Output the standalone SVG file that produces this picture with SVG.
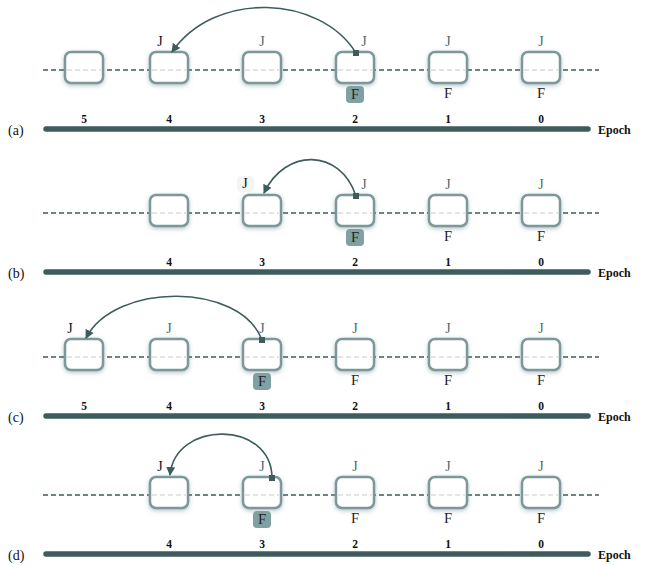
<svg xmlns="http://www.w3.org/2000/svg" width="646" height="565" viewBox="0 0 646 565">
<style>
.bg{fill:#ffffff}
.dash{stroke:#3f5c5c;stroke-width:1.3;stroke-dasharray:5,3;fill:none}
.bar{stroke:#3f5c5c;stroke-width:5.5;stroke-linecap:round}
.t{font-family:"Liberation Serif","Times New Roman",serif}
.jk{font-size:14px;fill:#111;text-anchor:middle}
.jg{font-size:14px;fill:#4d6a6a;text-anchor:middle}
.f{font-size:14.5px;fill:#222;text-anchor:middle}
.fh{fill:#7fa1a1}
.num{font-size:11.5px;font-weight:bold;fill:#111;text-anchor:middle}
.ep{font-size:12px;font-weight:bold;fill:#111}
.pl{font-size:14px;fill:#111}
.arc{fill:none;stroke:#3f5c5c;stroke-width:1.6;marker-start:url(#sq);marker-end:url(#ah)}
.lbl{fill:#f3f4f4}
</style>
<defs>
<filter id="glow" x="-30%" y="-30%" width="160%" height="170%">
<feDropShadow dx="0" dy="1.5" stdDeviation="2.2" flood-color="#5c7d8c" flood-opacity="0.45"/>
</filter>
<marker id="ah" markerWidth="10" markerHeight="10" refX="8" refY="5" orient="auto" markerUnits="userSpaceOnUse">
<path d="M0,0.5 L9,5 L0,9.5 z" fill="#3f5c5c"/>
</marker>
<marker id="sq" markerWidth="6" markerHeight="6" refX="3" refY="3" orient="0" markerUnits="userSpaceOnUse">
<rect x="0" y="0" width="6" height="6" fill="#3f5c5c"/>
</marker>
<g id="node">
<rect x="-19" y="0" width="38" height="31" rx="6" fill="#ffffff" stroke="#7d9898" stroke-width="2.5" filter="url(#glow)"/>
<line x1="-17" y1="18" x2="17" y2="18" stroke="#dcdcdc" stroke-width="1.3" stroke-dasharray="5,3"/>
</g>
</defs>
<rect class="bg" width="646" height="565"/>

<!-- Panel (a) -->
<g id="panel-a">
<line class="dash" x1="43" y1="70" x2="599" y2="70"/>
<g id="a-n5"><use href="#node" x="84" y="52"/><text class="t num" x="84" y="123">5</text></g>
<g id="a-n4"><use href="#node" x="169" y="52"/><text class="t jk" x="160" y="46">J</text><text class="t num" x="169" y="123">4</text></g>
<g id="a-n3"><use href="#node" x="262" y="52"/><text class="t jg" x="262" y="46">J</text><text class="t num" x="262" y="123">3</text></g>
<g id="a-n2"><use href="#node" x="355" y="52"/><text class="t jg" x="364" y="46">J</text><rect class="fh" x="346" y="86" width="18" height="17" rx="4"/><text class="t f" x="355" y="99">F</text><text class="t num" x="355" y="123">2</text></g>
<g id="a-n1"><use href="#node" x="448" y="52"/><text class="t jg" x="448" y="46">J</text><text class="t f" x="448" y="98">F</text><text class="t num" x="448" y="123">1</text></g>
<g id="a-n0"><use href="#node" x="541" y="52"/><text class="t jg" x="541" y="46">J</text><text class="t f" x="541" y="98">F</text><text class="t num" x="541" y="123">0</text></g>
<line class="bar" x1="46" y1="129" x2="588" y2="129"/>
<text class="t pl" x="8" y="135">(a)</text>
<text class="t ep" x="598" y="134">Epoch</text>
<g id="a-conn"><path class="arc" d="M356,53 C320,-5 215,-10 172,52"/></g>
</g>

<!-- Panel (b) -->
<g id="panel-b" transform="translate(0,143)">
<line class="dash" x1="43" y1="70" x2="599" y2="70"/>
<g id="b-n4"><use href="#node" x="169" y="52"/><text class="t num" x="169" y="123">4</text></g>
<g id="b-n3"><use href="#node" x="262" y="52"/><rect class="lbl" x="237" y="33" width="17" height="16" rx="4"/><text class="t jk" x="245" y="45">J</text><text class="t num" x="262" y="123">3</text></g>
<g id="b-n2"><use href="#node" x="355" y="52"/><text class="t jg" x="364" y="46">J</text><rect class="fh" x="346" y="86" width="18" height="17" rx="4"/><text class="t f" x="355" y="99">F</text><text class="t num" x="355" y="123">2</text></g>
<g id="b-n1"><use href="#node" x="448" y="52"/><text class="t jg" x="448" y="46">J</text><text class="t f" x="448" y="98">F</text><text class="t num" x="448" y="123">1</text></g>
<g id="b-n0"><use href="#node" x="541" y="52"/><text class="t jg" x="541" y="46">J</text><text class="t f" x="541" y="98">F</text><text class="t num" x="541" y="123">0</text></g>
<line class="bar" x1="46" y1="129" x2="588" y2="129"/>
<text class="t pl" x="8" y="135">(b)</text>
<text class="t ep" x="598" y="134">Epoch</text>
<g id="b-conn"><path class="arc" d="M356,53 C340,5 285,5 264,50"/></g>
</g>

<!-- Panel (c) -->
<g id="panel-c" transform="translate(0,287)">
<line class="dash" x1="43" y1="70" x2="599" y2="70"/>
<g id="c-n5"><use href="#node" x="84" y="52"/><text class="t jk" x="70" y="46">J</text><text class="t num" x="84" y="123">5</text></g>
<g id="c-n4"><use href="#node" x="169" y="52"/><text class="t jg" x="169" y="46">J</text><text class="t num" x="169" y="123">4</text></g>
<g id="c-n3"><use href="#node" x="262" y="52"/><text class="t jg" x="262" y="46">J</text><rect class="fh" x="253" y="86" width="18" height="17" rx="4"/><text class="t f" x="262" y="99">F</text><text class="t num" x="262" y="123">3</text></g>
<g id="c-n2"><use href="#node" x="355" y="52"/><text class="t jg" x="355" y="46">J</text><text class="t f" x="355" y="98">F</text><text class="t num" x="355" y="123">2</text></g>
<g id="c-n1"><use href="#node" x="448" y="52"/><text class="t jg" x="448" y="46">J</text><text class="t f" x="448" y="98">F</text><text class="t num" x="448" y="123">1</text></g>
<g id="c-n0"><use href="#node" x="541" y="52"/><text class="t jg" x="541" y="46">J</text><text class="t f" x="541" y="98">F</text><text class="t num" x="541" y="123">0</text></g>
<line class="bar" x1="46" y1="129" x2="588" y2="129"/>
<text class="t pl" x="8" y="135">(c)</text>
<text class="t ep" x="598" y="134">Epoch</text>
<g id="c-conn"><path class="arc" d="M262,53 C240,-5 115,-5 86,51"/></g>
</g>

<!-- Panel (d) -->
<g id="panel-d" transform="translate(0,425)">
<line class="dash" x1="43" y1="70" x2="599" y2="70"/>
<g id="d-n4"><use href="#node" x="169" y="52"/><text class="t jk" x="160" y="46">J</text><text class="t num" x="169" y="123">4</text></g>
<g id="d-n3"><use href="#node" x="262" y="52"/><text class="t jg" x="262" y="46">J</text><rect class="fh" x="253" y="86" width="18" height="17" rx="4"/><text class="t f" x="262" y="99">F</text><text class="t num" x="262" y="123">3</text></g>
<g id="d-n2"><use href="#node" x="355" y="52"/><text class="t jg" x="355" y="46">J</text><text class="t f" x="355" y="98">F</text><text class="t num" x="355" y="123">2</text></g>
<g id="d-n1"><use href="#node" x="448" y="52"/><text class="t jg" x="448" y="46">J</text><text class="t f" x="448" y="98">F</text><text class="t num" x="448" y="123">1</text></g>
<g id="d-n0"><use href="#node" x="541" y="52"/><text class="t jg" x="541" y="46">J</text><text class="t f" x="541" y="98">F</text><text class="t num" x="541" y="123">0</text></g>
<line class="bar" x1="46" y1="129" x2="588" y2="129"/>
<text class="t pl" x="8" y="135">(d)</text>
<text class="t ep" x="598" y="134">Epoch</text>
<g id="d-conn"><path class="arc" d="M272,53 C272,-5 175,-5 170,50"/></g>
</g>
</svg>
